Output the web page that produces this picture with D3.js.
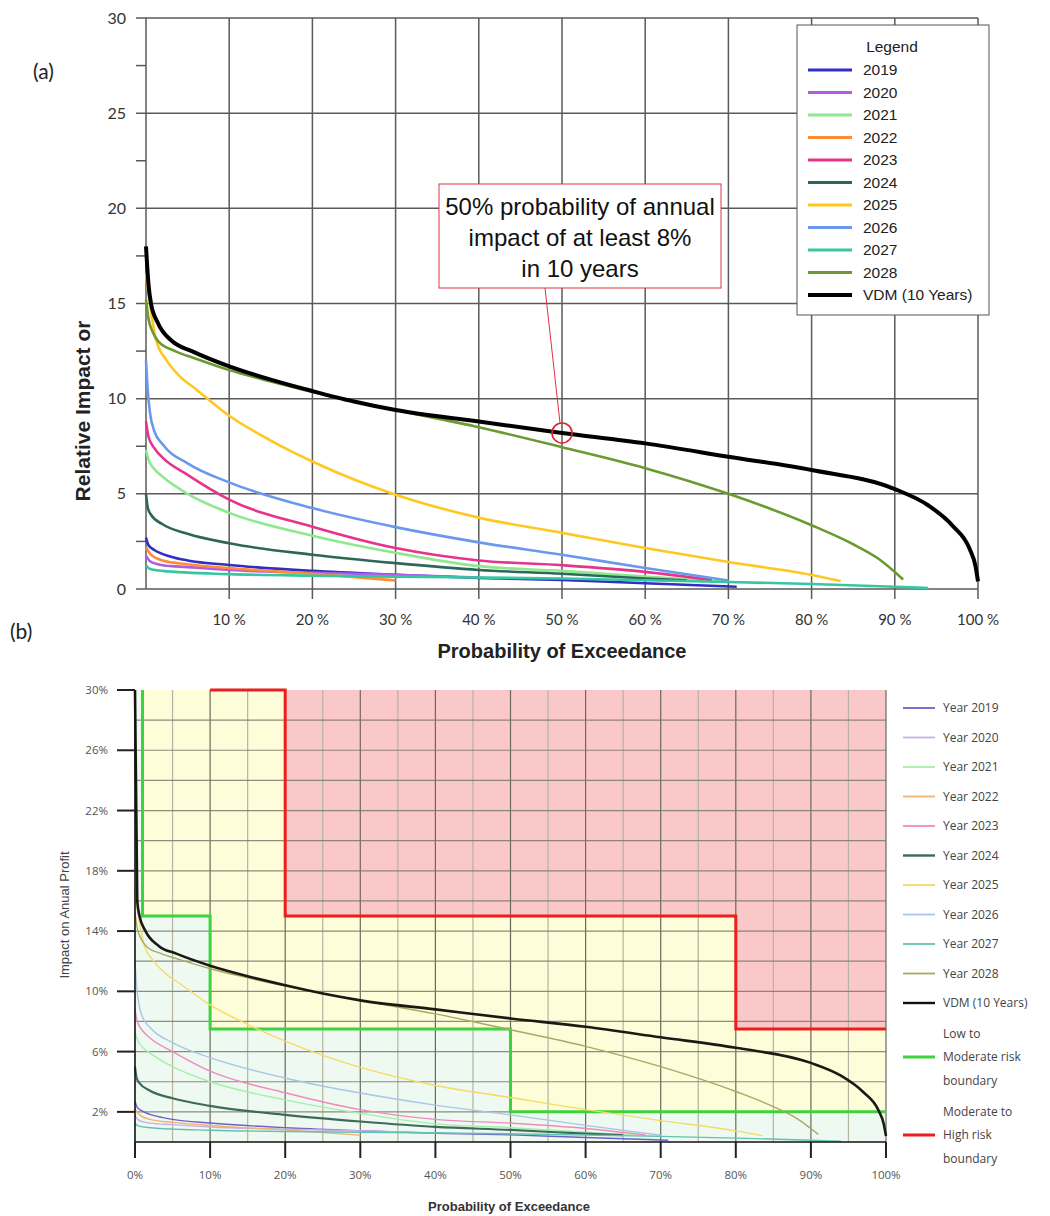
<!DOCTYPE html>
<html>
<head>
<meta charset="utf-8">
<script src="https://cdn.jsdelivr.net/npm/d3@7"></script>
<style>
  body { margin: 0; background: #fff; }
  svg { display: block; }
</style>
</head>
<body>
<svg id="chart" width="1050" height="1216"></svg>
<script>
// ---- data: probability of exceedance (%) -> relative impact (%) ----
const years = ["2019", "2020", "2021", "2022", "2023", "2024", "2025", "2026", "2027", "2028"];

const s2019 = [[0,2.7],[0.3,2.3],[1,2.05],[3,1.7],[5,1.5],[10,1.26],[20,0.95],[30,0.75],[40,0.58],[50,0.47],[60,0.3],[71,0.12]];
const s2020 = [[0,1.75],[0.5,1.45],[2,1.25],[5,1.15],[10,1.0],[20,0.85],[30,0.75],[40,0.6]];
const s2021 = [[0,7.3],[0.3,6.8],[1,6.3],[2,5.9],[5,5.0],[10,4.0],[20,2.8],[30,1.9],[40,1.2],[50,0.95],[60,0.65],[70,0.37]];
const s2022 = [[0,2.2],[0.5,1.85],[2,1.5],[5,1.3],[10,1.1],[20,0.8],[30,0.45]];
const s2023 = [[0,8.8],[0.3,8.0],[1,7.4],[2,6.9],[5,6.0],[10,4.7],[20,3.27],[30,2.15],[40,1.5],[50,1.25],[60,0.9],[68,0.47]];
const s2024 = [[0,5.0],[0.2,4.3],[0.6,3.9],[2,3.4],[5,2.9],[10,2.4],[20,1.8],[30,1.36],[40,1.0],[50,0.8],[60,0.55],[65,0.45]];
const s2025 = [[0,16.6],[0.3,15.5],[0.7,14.3],[1.2,13.1],[2.5,12.0],[4,11.2],[6,10.5],[10,9.1],[15,7.8],[20,6.7],[25,5.75],[30,4.95],[40,3.75],[50,2.95],[60,2.15],[70,1.42],[80,0.74],[83.5,0.42]];
const s2026 = [[0,12.0],[0.2,10.5],[0.5,9.2],[1,8.3],[2,7.6],[5,6.6],[10,5.6],[20,4.25],[30,3.25],[40,2.45],[50,1.8],[60,1.1],[70,0.45]];
const s2027 = [[0,1.25],[0.5,1.05],[2,0.95],[10,0.78],[20,0.7],[30,0.65],[50,0.55],[70,0.37],[80,0.26],[90,0.12],[94,0.05]];
const s2028 = [[0,15.2],[0.3,14.2],[0.8,13.5],[1.5,13.0],[3.5,12.5],[6,12.1],[10,11.5],[15,10.9],[20,10.35],[30,9.4],[40,8.5],[50,7.45],[60,6.35],[70,5.0],[80,3.35],[85,2.35],[88,1.6],[91,0.5]];
const sVDM  = [[0,18],[0.3,16],[0.6,15],[1.4,14],[3.2,13],[5.5,12.5],[10,11.7],[15,11],[20,10.4],[25,9.85],[30,9.4],[40,8.8],[50,8.2],[60,7.65],[70,6.95],[80,6.25],[90,5.25],[94,4.4],[97,3.3],[99,2.1],[99.7,1.2],[100,0.4]];
const vdmPeakB = [0, 30]; // VDM runs up the axis to the top of panel (b)

const yearSeries = [s2019, s2020, s2021, s2022, s2023, s2024, s2025, s2026, s2027, s2028];

// risk boundaries of panel (b): [probability %, impact %]
const greenBoundary = [[1,30],[1,15],[10,15],[10,7.5],[50,7.5],[50,2],[100,2]];
const redBoundary = [[10,30],[20,30],[20,15],[80,15],[80,7.5],[100,7.5]];

// annotation of panel (a)
const noteText = ["50% probability of annual", "impact of at least 8%", "in 10 years"];
const notePoint = [50, 8.2];

const xTicks = [10, 20, 30, 40, 50, 60, 70, 80, 90, 100];
const yTicksA = [0, 5, 10, 15, 20, 25, 30];
const yMinorA = [2.5, 7.5, 12.5, 17.5, 22.5, 27.5];
const xTicksB = [0, 10, 20, 30, 40, 50, 60, 70, 80, 90, 100];
const yTicksB = [2, 6, 10, 14, 18, 22, 26, 30];

const coloursA = ["#2f2fc4", "#b05ee6", "#8ee88e", "#ff8c33", "#e8338a", "#2e6658", "#ffc81e", "#6a98ee", "#35c8a0", "#6a9a30"];
const coloursB = ["#6f60c8", "#c8aee6", "#a6eeaa", "#f2b272", "#f08abc", "#3e6a5c", "#f6da66", "#a9c6e6", "#62c2b2", "#aaa864"];

const svg = d3.select("#chart");

// ================= panel (a) =================
const xA = d3.scaleLinear([0, 100], [146, 978]);
const yA = d3.scaleLinear([0, 30], [589, 18]);
const gA = svg.append("g");
const gridCol = "#5a5a5a";

gA.append("g").selectAll("line").data(xTicks).join("line")
  .attr("x1", d => xA(d)).attr("x2", d => xA(d))
  .attr("y1", yA(30)).attr("y2", yA(0) + 10)
  .attr("stroke", gridCol).attr("stroke-width", 1.5);
gA.append("g").selectAll("line").data(yTicksA).join("line")
  .attr("x1", xA(0) - 10).attr("x2", xA(100))
  .attr("y1", d => yA(d)).attr("y2", d => yA(d))
  .attr("stroke", gridCol).attr("stroke-width", 1.5);
gA.append("g").selectAll("line").data(yMinorA).join("line")
  .attr("x1", xA(0) - 10).attr("x2", xA(0))
  .attr("y1", d => yA(d)).attr("y2", d => yA(d))
  .attr("stroke", gridCol).attr("stroke-width", 1.5);
gA.append("line").attr("x1", xA(0)).attr("x2", xA(0)).attr("y1", yA(30)).attr("y2", yA(0))
  .attr("stroke", gridCol).attr("stroke-width", 1.5);

gA.append("g").selectAll("text").data(yTicksA).join("text")
  .attr("x", xA(0) - 20).attr("y", d => yA(d)).attr("dy", "0.35em")
  .attr("text-anchor", "end").attr("font-family", "Lato, 'Open Sans', sans-serif")
  .attr("font-size", 16).attr("fill", "#333").text(d => d);
gA.append("g").selectAll("text").data(xTicks).join("text")
  .attr("x", d => xA(d)).attr("y", yA(0) + 31).attr("dy", "0.35em")
  .attr("text-anchor", "middle").attr("font-family", "Lato, 'Open Sans', sans-serif")
  .attr("font-size", 15).attr("fill", "#333").text(d => d + " %");

const lineA = d3.line().x(d => xA(d[0])).y(d => yA(d[1])).curve(d3.curveMonotoneX);
gA.append("g").selectAll("path").data(yearSeries).join("path")
  .attr("d", lineA).attr("fill", "none")
  .attr("stroke", (d, i) => coloursA[i]).attr("stroke-width", 2.6);
gA.append("path").attr("d", lineA(sVDM)).attr("fill", "none")
  .attr("stroke", "#000").attr("stroke-width", 4);

gA.append("text").attr("x", 562).attr("y", 658).attr("text-anchor", "middle")
  .attr("font-family", "'Liberation Sans', Arial, sans-serif").attr("font-weight", "bold")
  .attr("font-size", 20).attr("fill", "#222").text("Probability of Exceedance");
gA.append("text").attr("transform", "translate(90,411) rotate(-90)").attr("text-anchor", "middle")
  .attr("font-family", "'Liberation Sans', Arial, sans-serif").attr("font-weight", "bold")
  .attr("font-size", 21).attr("fill", "#222").text("Relative Impact or");
svg.append("text").attr("x", 33).attr("y", 79).attr("font-family", "Lato, sans-serif")
  .attr("font-size", 21).attr("fill", "#222").text("(a)");
svg.append("text").attr("x", 10).attr("y", 639).attr("font-family", "Lato, sans-serif")
  .attr("font-size", 21).attr("fill", "#222").text("(b)");

// annotation
const cx = xA(notePoint[0]), cy = yA(notePoint[1]);
gA.append("line").attr("x1", 545).attr("y1", 288).attr("x2", cx - 2).attr("y2", cy - 10)
  .attr("stroke", "#e0304a").attr("stroke-width", 1);
gA.append("circle").attr("cx", cx).attr("cy", cy).attr("r", 10)
  .attr("fill", "none").attr("stroke", "#e02030").attr("stroke-width", 1.6);
gA.append("rect").attr("x", 439).attr("y", 184).attr("width", 282).attr("height", 104)
  .attr("fill", "#fff").attr("stroke", "#e0304a").attr("stroke-width", 1);
gA.append("g").selectAll("text").data(noteText).join("text")
  .attr("x", 580).attr("y", (d, i) => 215 + i * 31).attr("text-anchor", "middle")
  .attr("font-family", "'Liberation Sans Narrow', 'Liberation Sans', Arial, sans-serif")
  .attr("font-size", 24).attr("fill", "#111").text(d => d);

// legend (a)
const legA = gA.append("g");
legA.append("rect").attr("x", 797).attr("y", 25).attr("width", 192).attr("height", 290)
  .attr("fill", "#fff").attr("stroke", "#555").attr("stroke-width", 1);
legA.append("text").attr("x", 892).attr("y", 47).attr("dy", "0.35em").attr("text-anchor", "middle")
  .attr("font-family", "'Liberation Sans', Arial, sans-serif").attr("font-size", 15.5).attr("fill", "#222")
  .text("Legend");
const legNamesA = years.concat(["VDM (10 Years)"]);
const legColsA = coloursA.concat(["#000"]);
const legRowA = legA.selectAll("g.row").data(legNamesA).join("g").attr("class", "row")
  .attr("transform", (d, i) => `translate(0,${70 + i * 22.5})`);
legRowA.append("line").attr("x1", 808).attr("x2", 852)
  .attr("stroke", (d, i) => legColsA[i]).attr("stroke-width", (d, i) => i === 10 ? 4 : 3);
legRowA.append("text").attr("x", 863).attr("dy", "0.35em")
  .attr("font-family", "'Liberation Sans', Arial, sans-serif").attr("font-size", 15.5).attr("fill", "#222")
  .text(d => d);

// ================= panel (b) =================
const xB = d3.scaleLinear([0, 100], [135, 886]);
const yB = d3.scaleLinear([0, 30], [1142, 690]);
const gB = svg.append("g");
const pt = d => [xB(d[0]), yB(d[1])];
const poly = pts => "M" + pts.map(p => pt(p).join(",")).join("L") + "Z";

gB.append("rect").attr("x", xB(0)).attr("y", yB(30)).attr("width", xB(100) - xB(0)).attr("height", yB(0) - yB(30))
  .attr("fill", "#fefdd9");
gB.append("path").attr("d", poly([[0,0],[0,30]].concat(greenBoundary, [[100,0]]))).attr("fill", "#eefaf1");
gB.append("path").attr("d", poly(redBoundary.slice(1).concat([[100,30]]))).attr("fill", "#fbc8c9");

const vGrid = d3.range(5, 101, 5);
gB.append("g").selectAll("line").data(vGrid).join("line")
  .attr("x1", d => xB(d)).attr("x2", d => xB(d)).attr("y1", yB(30)).attr("y2", yB(0))
  .attr("stroke", d => d % 10 === 0 ? "#6a6a5a" : "#b4b4a0").attr("stroke-width", 1.2);
gB.append("g").selectAll("line").data(d3.range(2, 30, 2)).join("line")
  .attr("x1", xB(0)).attr("x2", xB(100)).attr("y1", d => yB(d)).attr("y2", d => yB(d))
  .attr("stroke", "#7a7a6a").attr("stroke-width", 1.2).attr("opacity", 0.85);

const stepLine = d3.line().x(d => xB(d[0])).y(d => yB(d[1]));
gB.append("path").attr("d", stepLine(greenBoundary)).attr("fill", "none")
  .attr("stroke", "#3ed23e").attr("stroke-width", 3);
gB.append("path").attr("d", stepLine(redBoundary)).attr("fill", "none")
  .attr("stroke", "#ee1c1c").attr("stroke-width", 3);

const lineB = d3.line().x(d => xB(d[0])).y(d => yB(d[1])).curve(d3.curveMonotoneX);
gB.append("g").selectAll("path").data(yearSeries).join("path")
  .attr("d", lineB).attr("fill", "none")
  .attr("stroke", (d, i) => coloursB[i]).attr("stroke-width", (d, i) => i === 5 ? 2.2 : 1.4);
gB.append("path").attr("d", lineB([vdmPeakB].concat(sVDM.slice(1)))).attr("fill", "none")
  .attr("stroke", "#1a1a14").attr("stroke-width", 2.6);

// axes (b)
gB.append("line").attr("x1", xB(0)).attr("x2", xB(0)).attr("y1", yB(30)).attr("y2", yB(0))
  .attr("stroke", "#111").attr("stroke-width", 1.6);
gB.append("line").attr("x1", xB(0)).attr("x2", xB(100)).attr("y1", yB(0)).attr("y2", yB(0))
  .attr("stroke", "#111").attr("stroke-width", 1.6);
gB.append("g").selectAll("line").data(yTicksB).join("line")
  .attr("x1", xB(0) - 18).attr("x2", xB(0)).attr("y1", d => yB(d)).attr("y2", d => yB(d))
  .attr("stroke", "#222").attr("stroke-width", 2);
gB.append("g").selectAll("line").data(xTicksB).join("line")
  .attr("x1", d => xB(d)).attr("x2", d => xB(d)).attr("y1", yB(0)).attr("y2", yB(0) + 16)
  .attr("stroke", "#222").attr("stroke-width", 2);
gB.append("g").selectAll("text").data(yTicksB).join("text")
  .attr("x", xB(0) - 27).attr("y", d => yB(d)).attr("dy", "0.35em").attr("text-anchor", "end")
  .attr("font-family", "'Open Sans', sans-serif").attr("font-size", 11.5).attr("fill", "#555")
  .text(d => d + "%");
gB.append("g").selectAll("text").data(xTicksB).join("text")
  .attr("x", d => xB(d)).attr("y", 1175).attr("dy", "0.35em").attr("text-anchor", "middle")
  .attr("font-family", "'Open Sans', sans-serif").attr("font-size", 11.5).attr("fill", "#555")
  .text(d => d + "%");
gB.append("text").attr("x", 509).attr("y", 1211).attr("text-anchor", "middle")
  .attr("font-family", "'Liberation Sans', Arial, sans-serif").attr("font-weight", "bold")
  .attr("font-size", 13).attr("fill", "#333").text("Probability of Exceedance");
gB.append("text").attr("transform", "translate(69,915) rotate(-90)").attr("text-anchor", "middle")
  .attr("font-family", "'Liberation Sans', Arial, sans-serif")
  .attr("font-size", 13).attr("fill", "#444").text("Impact on Anual Profit");

// legend (b)
const legB = gB.append("g");
const legNamesB = years.map(y => "Year " + y).concat(["VDM (10 Years)"]);
const legColsB = coloursB.concat(["#111"]);
const legRowB = legB.selectAll("g.row").data(legNamesB).join("g").attr("class", "row")
  .attr("transform", (d, i) => `translate(0,${708 + i * 29.5})`);
legRowB.append("line").attr("x1", 903).attr("x2", 935)
  .attr("stroke", (d, i) => legColsB[i]).attr("stroke-width", (d, i) => i >= 10 || i === 5 ? 2.4 : 1.8);
legRowB.append("text").attr("x", 943).attr("dy", "0.35em")
  .attr("font-family", "'Open Sans', sans-serif").attr("font-size", 12).attr("fill", "#444")
  .text(d => d);

const boundaryLegend = [
  { lines: ["Low to", "Moderate risk", "boundary"], colour: "#3ed23e", y: 1057 },
  { lines: ["Moderate to", "High risk", "boundary"], colour: "#ee1c1c", y: 1135 }
];
boundaryLegend.forEach(b => {
  legB.append("line").attr("x1", 903).attr("x2", 935).attr("y1", b.y).attr("y2", b.y)
    .attr("stroke", b.colour).attr("stroke-width", 3);
  legB.append("g").selectAll("text").data(b.lines).join("text")
    .attr("x", 943).attr("y", (d, i) => b.y + (i - 1) * 23.5).attr("dy", "0.35em")
    .attr("font-family", "'Open Sans', sans-serif").attr("font-size", 12).attr("fill", "#444")
    .text(d => d);
});
</script>
</body>
</html>
